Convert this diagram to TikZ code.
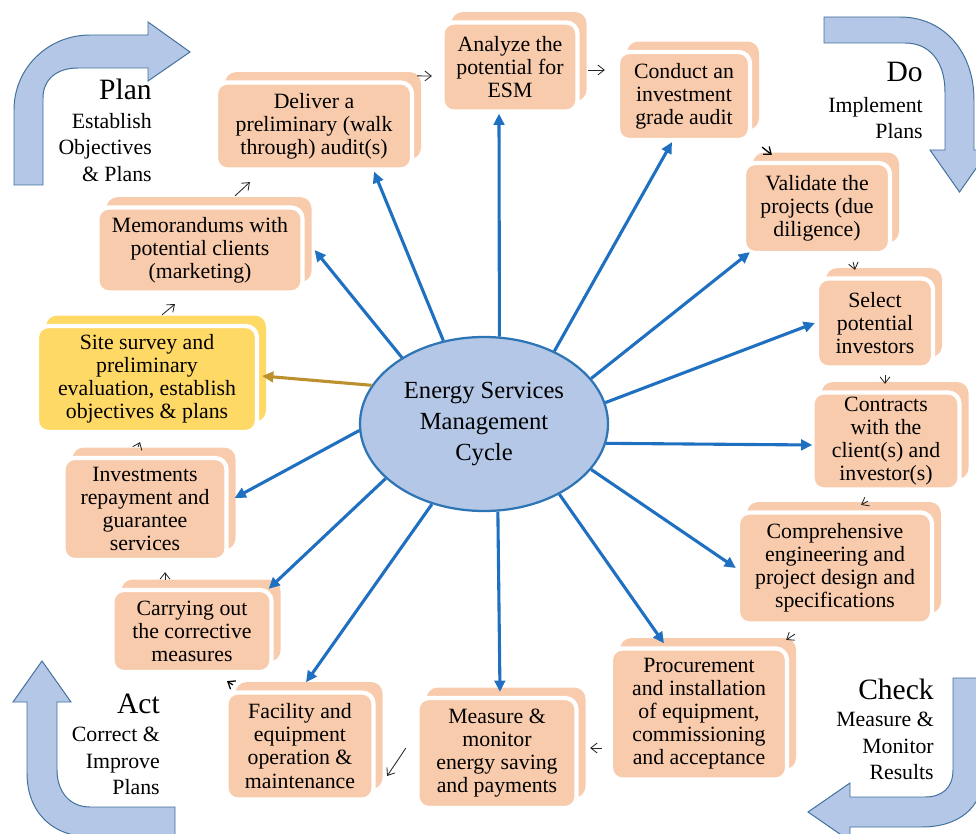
\documentclass[tikz,border=0pt]{standalone}
\usepackage{fontspec}
\setmainfont{Liberation Serif}
\usetikzlibrary{arrows.meta,shapes.geometric,shadows}
\definecolor{boxor}{HTML}{F8CBAD}
\definecolor{boxyl}{HTML}{FFD966}
\definecolor{ellfill}{HTML}{B4C7E7}
\definecolor{elldraw}{HTML}{2E75B6}
\definecolor{bluearr}{HTML}{1F70C1}
\definecolor{goldarr}{HTML}{BC912D}
\definecolor{bigfill}{HTML}{B4C7E7}
\definecolor{bigdraw}{HTML}{41719C}
\begin{document}
\begin{tikzpicture}[x=0.025cm,y=-0.025cm,
  bx/.style n args={3}{draw=white, line width=3pt, fill=#3, rounded corners=8pt,
    minimum width=#1*0.025cm, minimum height=#2*0.025cm, inner sep=1pt, align=center,
    font=\fontsize{15.5}{16.4}\selectfont,
    copy shadow={shadow xshift=6.4pt, shadow yshift=7.4pt, fill=#3, draw=none}},
  ba/.style={draw=bluearr, line width=2.2pt, -{Triangle[length=8pt,width=7.5pt]}},
  ga/.style={draw=goldarr, line width=2.2pt, -{Triangle[length=8pt,width=7.5pt]}},
  sa/.style={draw=black!85, line width=0.6pt, -{Straight Barb[length=4.5pt,width=7pt]}},
  big/.style={fill=bigfill, draw=bigdraw, line width=0.7pt},
  hd/.style={font=\fontsize{21}{24}\selectfont, inner sep=0pt},
  sub/.style={font=\fontsize{15.5}{18.8}\selectfont, inner sep=0pt, align=right, anchor=north east}
]
\useasboundingbox (0,0) rectangle (976,834);
\clip (0,0) rectangle (976,834);

% corner arrows
\draw[big] (14,185) -- (14,110) .. controls (14,68) and (48,35) .. (90,35) -- (148,35) -- (148,22)
  -- (190,52) -- (148,81) -- (148,68) -- (78,68) .. controls (56,68) and (43,80) .. (43,98) -- (43,185) -- cycle;
\draw[big] (824,17) -- (900,17) .. controls (944,17) and (974,52) .. (974,100) -- (974,150) -- (989,150)
  -- (959.5,192) -- (930,150) -- (945,150) -- (945,92) .. controls (945,62) and (930,43) .. (905,43) -- (824,43) -- cycle;
\draw[big] (175,807) -- (90,807) .. controls (70,807) and (57,792) .. (57,770) -- (57,702) -- (71,702)
  -- (42,661) -- (13,702) -- (27,702) -- (27,773) .. controls (27,812) and (52,837) .. (92,837) -- (175,837) -- cycle;
\draw[big] (953,678) -- (983,678) -- (983,775) .. controls (983,808) and (958,827) .. (922,827) -- (850,827)
  -- (850,841) -- (808,812) -- (850,783) -- (850,797) -- (925,797) .. controls (942,797) and (953,788) .. (953,770) -- cycle;

% PDCA labels
\node[hd, anchor=base east] (plan) at (152,100) {Plan};
\node[sub] (plans) at (152,113) {Establish\\Objectives\\\& Plans};
\node[hd, anchor=base east] (do) at (923,82) {Do};
\node[sub] (dos) at (923,97) {Implement\\Plans};
\node[hd, anchor=base east] (act) at (160,713) {Act};
\node[sub] (acts) at (160,727) {Correct \&\\Improve\\Plans};
\node[hd, anchor=base east] (check) at (934,699) {Check};
\node[sub] (checks) at (934,712) {Measure \&\\Monitor\\Results};

% boxes
\node[bx={135}{89}{boxor}] (a) at (510,67) {Analyze the\\potential for\\ESM};
\node[bx={132}{88}{boxor}] (c) at (684,96) {Conduct an\\investment\\grade audit};
\node[bx={196}{87}{boxor}] (d) at (314,126) {Deliver a\\preliminary (walk\\through) audit(s)};
\node[bx={205}{85}{boxor}] (m) at (200,250) {Memorandums with\\potential clients\\(marketing)};
\node[bx={220}{106}{boxyl}] (s) at (147,379) {Site survey and\\preliminary\\evaluation, establish\\objectives \& plans};
\node[bx={163}{102}{boxor}] (i) at (145,509) {Investments\\repayment and\\guarantee\\services};
\node[bx={159}{82}{boxor}] (k) at (192,631) {Carrying out\\the corrective\\measures};
\node[bx={147}{107}{boxor}] (f) at (300,746) {Facility and\\equipment\\operation \&\\maintenance};
\node[bx={159}{110}{boxor}] (mm) at (497,753) {Measure \&\\monitor\\energy saving\\and payments};
\node[bx={176}{131}{boxor}] (p) at (699,714) {Procurement\\and installation\\of equipment,\\commissioning\\and acceptance};
\node[bx={194}{111}{boxor}] (e) at (835,568) {Comprehensive\\engineering and\\project design and\\specifications};
\node[bx={147}{97}{boxor}] (ct) at (886,441) {Contracts\\with the\\client(s) and\\investor(s)};
\node[bx={116}{89}{boxor}] (sl) at (875,323) {Select\\potential\\investors};
\node[bx={146}{90}{boxor}] (v) at (817,208) {Validate the\\projects (due\\diligence)};

% central ellipse
\node[ellipse, draw=elldraw, line width=1.6pt, fill=ellfill, minimum width=248*0.025cm,
  minimum height=174*0.025cm, inner sep=0pt, align=center,
  font=\fontsize{17.5}{22}\selectfont] (E) at (484,424) {Energy Services\\Management\\Cycle};

% radial arrows
\draw[ba] (E.116) -- ([shift={(60,0)}]d.south);
\draw[ba] (E.80) -- ([shift={(-11,0)}]a.south);
\draw[ba] (E.46) -- ([shift={(-12,0)}]c.south);
\draw[ba] (E.23) -- ([shift={(8,-3)}]v.south west);
\draw[ba] (E.10) -- (sl.west);
\draw[ba] (E.351) -- ([shift={(2,4)}]ct.west);
\draw[ba] (E.337) -- (e.west);
\draw[ba] (E.317) -- ([shift={(-35,-3)}]p.north);
\draw[ba] (E.279) -- ([shift={(3,-4)}]mm.north);
\draw[ba] (E.237) -- ([shift={(6,-8)}]f.north);
\draw[ba] (E.209) -- ([shift={(-5,1)}]k.north east);
\draw[ba] (E.183) -- ([shift={(6,-11)}]i.east);
\draw[ba] (E.141) -- ([shift={(10,0)}]m.east);
\draw[ga] (E.161) -- ([shift={(3,-3)}]s.east);

% small sequence arrows
\draw[sa] ([shift={(3,-4.5)}]d.north east) -- ([shift={(-8.5,9)}]a.west);
\draw[sa] ([shift={(8.5,3)}]a.east) -- ([shift={(-11,-26)}]c.west);
\draw[sa, line width=0.9pt, draw=black] ([shift={(10,5)}]c.south east) -- ([shift={(30,-6)}]v.north west);
\draw[sa] ([shift={(-39,7)}]v.south east) -- ([shift={(-20,-6.5)}]sl.north);
\draw[sa] ([shift={(10,5.5)}]sl.south) -- ([shift={(-1,-6.5)}]ct.north);
\draw[sa] ([shift={(-18,9.5)}]ct.south) -- ([shift={(26,-5.5)}]e.north);
\draw[sa] ([shift={(-40,8.5)}]e.south) -- ([shift={(-3,-6.5)}]p.north east);
\draw[sa] ([shift={(-7,34)}]p.west) -- ([shift={(11.5,-5)}]mm.east);
\draw[sa] ([shift={(-9.5,-5)}]mm.west) -- ([shift={(11.5,30)}]f.east);
\draw[sa, line width=0.9pt, draw=black] ([shift={(8.5,-5.5)}]f.north west) -- ([shift={(35,7)}]k.south);
\draw[sa] ([shift={(-27,-8)}]k.north) -- ([shift={(20,10)}]i.south);
\draw[sa] ([shift={(-7,-9)}]i.north) -- ([shift={(-7,8)}]s.south);
\draw[sa] ([shift={(15,-9)}]s.north) -- ([shift={(-25,9.5)}]m.south);
\draw[sa] ([shift={(35,-9.5)}]m.north) -- ([shift={(36,10.5)}]d.south west);
\end{tikzpicture}
\end{document}
